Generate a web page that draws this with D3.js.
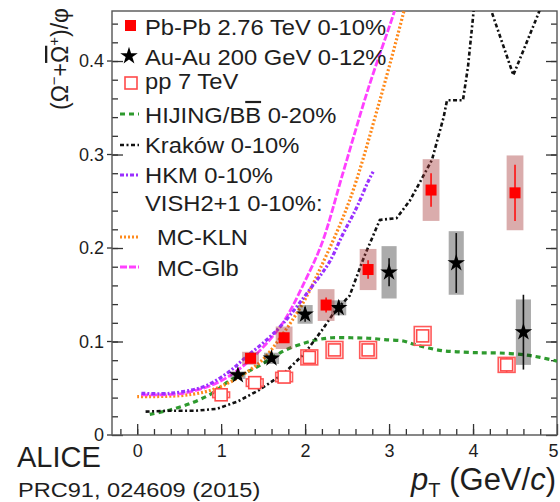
<!DOCTYPE html>
<html>
<head>
<meta charset="utf-8">
<script src="https://cdn.jsdelivr.net/npm/d3@7"></script>
<style>
  body { margin: 0; background: #fff; }
  svg { display: block; }
  text { font-family: "Liberation Sans", Arial, Helvetica, sans-serif; fill: #1e1e1e; }
</style>
</head>
<body>
<svg id="chart" width="560" height="502"></svg>
<script>
// ---- Measured ratios (Omega- + anti-Omega+)/phi versus pT ----
// Pb-Pb 2.76 TeV 0-10%
const pbpbPt    = [1.35, 1.75, 2.25, 2.75, 3.5, 4.5];
const pbpbRatio = [0.082, 0.104, 0.139, 0.177, 0.262, 0.259];
const pbpbStat  = [0.003, 0.005, 0.008, 0.010, 0.018, 0.030];
const pbpbSyst  = [0.007, 0.012, 0.017, 0.022, 0.033, 0.040];
// Au-Au 200 GeV 0-12%
const auauPt    = [1.2, 1.6, 2.0, 2.4, 3.0, 3.8, 4.6];
const auauRatio = [0.064, 0.082, 0.129, 0.136, 0.174, 0.184, 0.110];
const auauStat  = [0.003, 0.004, 0.008, 0.008, 0.015, 0.032, 0.040];
const auauSyst  = [0.004, 0.006, 0.010, 0.008, 0.028, 0.034, 0.035];
// pp 7 TeV
const ppPt    = [1.0, 1.4, 1.75, 2.05, 2.35, 2.75, 3.4, 4.4];
const ppRatio = [0.043, 0.056, 0.062, 0.083, 0.091, 0.091, 0.106, 0.075];
const ppStat  = [0.002, 0.002, 0.003, 0.003, 0.004, 0.004, 0.006, 0.008];
const ppSyst  = [0.003, 0.004, 0.005, 0.008, 0.009, 0.009, 0.010, 0.008];

// ---- Model curves ----
const hijingPt    = [0.15, 0.4, 0.67, 0.9, 1.09, 1.3, 1.47, 1.65, 1.77, 1.98, 2.15, 2.32, 2.55, 2.75, 2.95, 3.17, 3.3, 3.47, 3.65, 3.81, 4.05, 4.32, 4.62, 4.8, 5.0];
const hijingRatio = [0.022, 0.027, 0.035, 0.045, 0.0575, 0.067, 0.075, 0.085, 0.091, 0.098, 0.102, 0.104, 0.104, 0.1035, 0.102, 0.1005, 0.097, 0.093, 0.090, 0.089, 0.088, 0.0877, 0.0857, 0.083, 0.079];

const krakowPt    = [0.1, 0.4, 0.7, 0.95, 1.2, 1.45, 1.75, 2.0, 2.2, 2.36, 2.53, 2.7, 2.89, 3.09, 3.25, 3.51, 3.65, 3.69, 3.88, 3.94, 4.0, 4.05, 4.15, 4.22, 4.48, 4.78, 4.85];
const krakowRatio = [0.025, 0.026, 0.026, 0.028, 0.036, 0.048, 0.066, 0.088, 0.112, 0.133, 0.149, 0.19, 0.230, 0.232, 0.251, 0.294, 0.340, 0.358, 0.358, 0.394, 0.447, 0.50, 0.50, 0.453, 0.385, 0.451, 0.47];

const hkmPt    = [0.05, 0.39, 0.79, 1.07, 1.30, 1.54, 1.74, 2.08, 2.28, 2.455, 2.61, 2.75, 2.81];
const hkmRatio = [0.0446, 0.0446, 0.0517, 0.066, 0.0837, 0.1016, 0.1195, 0.1586, 0.1836, 0.2157, 0.2425, 0.271, 0.2816];

const mcKlnPt    = [0.0, 0.5, 0.8, 1.0, 1.25, 1.5, 1.75, 1.98, 2.18, 2.53, 2.89, 3.17, 3.25];
const mcKlnRatio = [0.041, 0.042, 0.046, 0.052, 0.064, 0.081, 0.110, 0.142, 0.178, 0.251, 0.358, 0.451, 0.48];

const mcGlbPt    = [0.05, 0.5, 0.75, 1.0, 1.25, 1.5, 1.75, 2.0, 2.2, 2.45, 2.75, 3.07, 3.15];
const mcGlbRatio = [0.043, 0.044, 0.049, 0.058, 0.073, 0.094, 0.122, 0.165, 0.205, 0.28, 0.37, 0.455, 0.48];

// ---- Axis ticks ----
const xMajorTicks = [0, 1, 2, 3, 4, 5];
const xMinorTicks = d3.range(-0.2, 5.0, 0.2);
const yMajorTicks = [0, 0.1, 0.2, 0.3, 0.4];
const yMinorTicks = d3.range(0.02, 0.45, 0.02);

// ---- Legend ----
const legendLabels = ["Pb-Pb 2.76 TeV 0-10%", "Au-Au 200 GeV 0-12%", "pp 7 TeV",
  "HIJING/BB", "Krak\u00f3w 0-10%", "HKM 0-10%", "VISH2+1 0-10%:", "MC-KLN", "MC-Glb"];

const svg = d3.select("#chart");
const frameL = 112, frameR = 557, frameT = 11, frameB = 435;
const x = d3.scaleLinear().domain([-0.3, 5.0]).range([frameL, frameR]);
const y = d3.scaleLinear().domain([0, 0.4535]).range([frameB, frameT]);

svg.append("defs").append("clipPath").attr("id", "plotClip")
  .append("rect").attr("x", frameL).attr("y", frameT).attr("width", frameR - frameL).attr("height", frameB - frameT);

// ---- Frame and axes ----
const axisColor = "#333";
function styleAxis(g) {
  g.select(".domain").remove();
  g.selectAll("line").attr("stroke", axisColor).attr("stroke-width", 1.3);
  g.selectAll("text").style("font-size", "18px").attr("fill", "#222");
}
svg.append("g").attr("transform", `translate(${frameL},0)`)
  .call(d3.axisLeft(y).tickValues(yMajorTicks).tickSize(-11).tickPadding(8).tickFormat(d => d === 0 ? "0" : d3.format(".1f")(d)))
  .call(styleAxis);
svg.append("g").attr("transform", `translate(${frameL},0)`)
  .call(d3.axisLeft(y).tickValues(yMinorTicks).tickSize(-6).tickFormat(""))
  .call(styleAxis);
// short outer stubs on the major y ticks
svg.append("g").selectAll("line").data(yMajorTicks).join("line")
  .attr("x1", frameL - 5).attr("x2", frameL).attr("y1", d => y(d)).attr("y2", d => y(d))
  .attr("stroke", axisColor).attr("stroke-width", 1.3);
svg.append("g").attr("transform", `translate(${frameR},0)`)
  .call(d3.axisRight(y).tickValues(yMajorTicks).tickSize(-11).tickFormat(""))
  .call(styleAxis);
svg.append("g").attr("transform", `translate(${frameR},0)`)
  .call(d3.axisRight(y).tickValues(yMinorTicks).tickSize(-6).tickFormat(""))
  .call(styleAxis);
const xAxisG = svg.append("g").attr("transform", `translate(0,${frameB})`)
  .call(d3.axisBottom(x).tickValues(xMajorTicks).tickSize(-11).tickPadding(9).tickFormat(d3.format("d")))
  .call(styleAxis);
// keep the last label inside the page
xAxisG.selectAll(".tick text").filter(d => d === 5).attr("dx", -4);
svg.append("g").attr("transform", `translate(0,${frameB})`)
  .call(d3.axisBottom(x).tickValues(xMinorTicks).tickSize(-6).tickFormat(""))
  .call(styleAxis);
svg.append("rect").attr("x", frameL).attr("y", frameT).attr("width", frameR - frameL).attr("height", frameB - frameT)
  .attr("fill", "none").attr("stroke", "#555").attr("stroke-width", 1.4);

// ---- Model curves ----
const plot = svg.append("g").attr("clip-path", "url(#plotClip)");
const smooth = d3.line().x(d => x(d[0])).y(d => y(d[1])).curve(d3.curveCatmullRom.alpha(0.5));
const straight = d3.line().x(d => x(d[0])).y(d => y(d[1]));
const models = [
  { pt: hijingPt, r: hijingRatio, color: "#2e9a2e", dash: "5,4", width: 3.2, gen: smooth },
  { pt: krakowPt, r: krakowRatio, color: "#111", dash: "4,2.5,2,2.5", width: 2.6, gen: straight },
  { pt: mcKlnPt, r: mcKlnRatio, color: "#ff8a1c", dash: "2,2", width: 3.2, gen: smooth },
  { pt: mcGlbPt, r: mcGlbRatio, color: "#ff40ff", dash: "7,2", width: 2.8, gen: smooth },
  { pt: hkmPt, r: hkmRatio, color: "#9a30ff", dash: "4,2,2,2", width: 3.2, gen: smooth }
];
models.forEach(m => {
  plot.append("path").datum(m.pt.map((p, i) => [p, m.r[i]]))
    .attr("d", m.gen).attr("fill", "none").attr("stroke", m.color)
    .attr("stroke-width", m.width).attr("stroke-dasharray", m.dash);
});

// ---- Data points ----
function zip(pt, r, st, sy) { return pt.map((p, i) => ({ pt: p, r: r[i], stat: st[i], syst: sy[i] })); }
const pbpb = zip(pbpbPt, pbpbRatio, pbpbStat, pbpbSyst);
const auau = zip(auauPt, auauRatio, auauStat, auauSyst);
const pp = zip(ppPt, ppRatio, ppStat, ppSyst);

// systematic boxes
plot.append("g").selectAll("rect").data(auau).join("rect")
  .attr("x", d => x(d.pt - 0.09)).attr("width", d => x(d.pt + 0.09) - x(d.pt - 0.09))
  .attr("y", d => y(d.r + d.syst)).attr("height", d => y(d.r - d.syst) - y(d.r + d.syst))
  .attr("fill", "#000").attr("fill-opacity", 0.33);
plot.append("g").selectAll("rect").data(pbpb).join("rect")
  .attr("x", d => x(d.pt - 0.1)).attr("width", d => x(d.pt + 0.1) - x(d.pt - 0.1))
  .attr("y", d => y(d.r + d.syst)).attr("height", d => y(d.r - d.syst) - y(d.r + d.syst))
  .attr("fill", "#a83a3a").attr("fill-opacity", 0.42);
plot.append("g").selectAll("rect").data(pp).join("rect")
  .attr("x", d => x(d.pt - 0.1)).attr("width", d => x(d.pt + 0.1) - x(d.pt - 0.1))
  .attr("y", d => y(d.r + d.syst)).attr("height", d => y(d.r - d.syst) - y(d.r + d.syst))
  .attr("fill", "none").attr("stroke", "#ff5a5a").attr("stroke-width", 1.6);

// statistical bars
function statBars(data, color) {
  plot.append("g").selectAll("line").data(data).join("line")
    .attr("x1", d => x(d.pt)).attr("x2", d => x(d.pt))
    .attr("y1", d => y(d.r - d.stat)).attr("y2", d => y(d.r + d.stat))
    .attr("stroke", color).attr("stroke-width", 1.6);
}
statBars(auau, "#111");
statBars(pbpb, "#ff1010");
statBars(pp, "#ff5050");

// markers
const starPath = d3.symbol(d3.symbolStar).size(95)();
const sq = 11;
plot.append("g").selectAll("rect").data(pp).join("rect")
  .attr("x", d => x(d.pt) - 6).attr("y", d => y(d.r) - 6).attr("width", 12).attr("height", 12)
  .attr("fill", "#fff").attr("stroke", "#ff4a4a").attr("stroke-width", 1.6);
plot.append("g").selectAll("path").data(auau).join("path")
  .attr("d", starPath).attr("transform", d => `translate(${x(d.pt)},${y(d.r)})`)
  .attr("fill", "#000");
plot.append("g").selectAll("rect").data(pbpb).join("rect")
  .attr("x", d => x(d.pt) - sq / 2).attr("y", d => y(d.r) - sq / 2).attr("width", sq).attr("height", sq)
  .attr("fill", "#ff0000");

// ---- Legend ----
const leg = svg.append("g");
const lx = 145, lfont = 22, lsx = 1.08;
function legendText(str, tx, by) {
  return leg.append("text").attr("transform", `translate(${tx},${by}) scale(${lsx},1)`)
    .style("font-size", lfont + "px").text(str);
}
leg.append("rect").attr("x", 125).attr("y", 20).attr("width", sq).attr("height", sq).attr("fill", "#ff0000");
legendText(legendLabels[0], lx, 35);
leg.append("path").attr("d", starPath).attr("transform", "translate(129,56)").attr("fill", "#000");
legendText(legendLabels[1], lx, 65);
leg.append("rect").attr("x", 125).attr("y", 77).attr("width", 12).attr("height", 12)
  .attr("fill", "#fff").attr("stroke", "#ff4a4a").attr("stroke-width", 1.6);
legendText(legendLabels[2], lx, 89);

const hij = legendText("HIJING/B", lx, 123);
hij.append("tspan").attr("text-decoration", "overline").text("B");
hij.append("tspan").text(" 0-20%");

const legendLines = [
  { m: models[0], yy: 114, x1: 120, x2: 139 },
  { m: models[1], yy: 145, x1: 120, x2: 139 },
  { m: models[4], yy: 175, x1: 120, x2: 139 },
  { m: models[2], yy: 237, x1: 120, x2: 139 },
  { m: models[3], yy: 267, x1: 120, x2: 139 }
];
legendLines.forEach(l => {
  leg.append("line").attr("x1", l.x1).attr("x2", l.x2).attr("y1", l.yy).attr("y2", l.yy)
    .attr("stroke", l.m.color).attr("stroke-width", l.m.width).attr("stroke-dasharray", l.m.dash);
});
legendText(legendLabels[4], lx, 153);
legendText(legendLabels[5], lx, 183);
legendText(legendLabels[6], lx, 211);
legendText(legendLabels[7], 157, 245);
legendText(legendLabels[8], 157, 276);

// ---- Axis titles and labels ----
const yt = svg.append("text").attr("transform", "translate(68,59) rotate(-90)")
  .attr("text-anchor", "middle").style("font-size", "23px");
yt.append("tspan").text("(\u03a9");
yt.append("tspan").attr("dy", -9).style("font-size", "15px").text("\u2212");
yt.append("tspan").attr("dy", 9).text("+");
yt.append("tspan").attr("text-decoration", "overline").text("\u03a9");
yt.append("tspan").attr("dy", -9).style("font-size", "15px").text("+");
yt.append("tspan").attr("dy", 9).text(")/\u03c6");

const xt = svg.append("text").attr("x", 556).attr("y", 490).attr("text-anchor", "end").style("font-size", "31px");
xt.append("tspan").style("font-style", "italic").text("p");
xt.append("tspan").attr("dy", 7).style("font-size", "20px").text("T");
xt.append("tspan").attr("dy", -7).text(" (GeV/");
xt.append("tspan").style("font-style", "italic").text("c");
xt.append("tspan").text(")");

svg.append("text").attr("x", 17).attr("y", 467).style("font-size", "29px").text("ALICE");
svg.append("text").attr("transform", "translate(18,497) scale(1.15,1)").style("font-size", "20.5px")
  .text("PRC91, 024609 (2015)");
</script>
</body>
</html>
